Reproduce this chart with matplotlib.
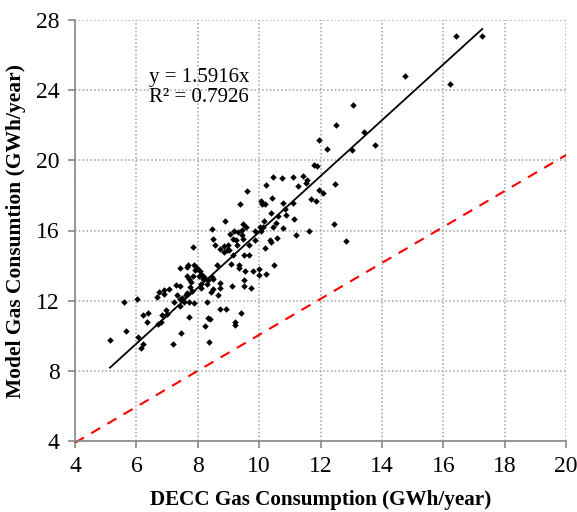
import matplotlib
matplotlib.use("Agg")
import matplotlib.pyplot as plt
import numpy as np

decc = [5.14, 5.60, 5.67, 6.03, 6.05, 6.15, 6.23, 6.21, 6.38, 6.33, 6.66, 6.74, 6.69, 6.81, 6.85,
        6.89, 6.90, 6.98, 6.99, 7.05, 7.18, 7.24, 7.29, 7.33, 7.41, 7.41, 7.42, 7.43, 7.47, 7.49,
        7.55, 7.61, 7.64, 7.65, 7.66, 7.67, 7.70, 7.71, 7.72, 7.76, 7.77, 7.82, 7.84, 7.88, 7.88,
        7.85, 7.91, 7.99, 8.03, 8.07, 8.09, 8.12, 8.14, 8.18, 8.21, 8.25, 8.30, 8.30, 8.33, 8.36,
        8.33, 8.39, 8.43, 8.45, 8.45, 8.49, 8.49, 8.51, 8.57, 8.63, 8.65, 8.71, 8.72, 8.74, 8.72,
        8.84, 8.86, 8.89, 8.92, 8.96, 8.98, 9.03, 9.05, 9.08, 9.11, 9.16, 9.16, 9.19, 9.21, 9.23,
        9.26, 9.29, 9.31, 9.33, 9.35, 9.39, 9.41, 9.43, 9.44, 9.47, 9.49, 9.50, 9.51, 9.52, 9.55,
        9.57, 9.62, 9.67, 9.68, 9.74, 9.79, 9.86, 9.87, 9.99, 10.00, 10.03, 10.05, 10.07, 10.09,
        10.11, 10.16, 10.18, 10.18, 10.22, 10.23, 10.35, 10.38, 10.40, 10.41, 10.44, 10.45, 10.48,
        10.54, 10.59, 10.63, 10.74, 10.79, 10.79, 10.85, 10.89, 11.09, 11.11, 11.13, 11.19, 11.27,
        11.42, 11.54, 11.57, 11.64, 11.70, 11.79, 11.84, 11.90, 11.95, 11.96, 12.09, 12.21, 12.45,
        12.48, 12.49, 12.84, 13.02, 13.05, 13.41, 13.76, 14.74, 16.21, 16.42, 17.27]
model = [9.75, 11.92, 10.26, 12.10, 9.92, 9.29, 9.54, 11.19, 11.31, 10.76, 12.20, 12.49, 10.66, 10.78, 11.19,
         12.62, 12.39, 11.44, 11.25, 12.68, 9.54, 11.92, 12.92, 12.35, 13.86, 12.81, 12.07, 11.69, 10.15, 12.14,
         11.95, 12.30, 12.45, 13.40, 13.91, 14.05, 13.25, 11.90, 11.06, 12.77, 13.06, 12.54, 13.38, 11.88, 14.06,
         15.05, 13.76, 13.86, 13.40, 13.68, 12.73, 12.96, 13.48, 13.23, 13.34, 10.57, 11.92, 12.96, 13.15, 9.63,
         11.00, 10.97, 12.52, 13.34, 16.08, 13.25, 12.64, 15.53, 15.19, 14.01, 12.33, 11.50, 12.99, 12.73, 14.96,
         15.09, 14.77, 16.57, 11.50, 14.86, 15.19, 14.86, 15.81, 14.10, 12.81, 14.63, 15.53, 16.00, 10.78, 10.64,
         15.47, 15.19, 15.91, 13.87, 14.01, 17.49, 11.31, 16.04, 15.72, 16.38, 15.49, 13.15, 14.58, 12.83, 13.68,
         16.19, 18.25, 14.58, 15.15, 12.72, 13.68, 16.00, 15.47, 13.44, 13.82, 16.19, 17.71, 16.00, 17.49,
         16.19, 16.52, 17.52, 15.02, 18.57, 13.53, 15.47, 16.99, 15.34, 17.85, 19.05, 16.19, 14.01,
         16.42, 15.59, 16.80, 18.99, 16.16, 17.56, 17.24, 16.86, 19.05, 17.58, 16.63, 15.72, 18.53,
         19.08, 18.72, 18.86, 16.00, 17.77, 19.75, 17.71, 19.67, 21.17, 18.32, 18.13, 20.62, 16.38,
         18.67, 21.99, 15.38, 20.57, 23.17, 21.61, 20.85, 24.79, 24.37, 27.07, 27.09]

slope = 1.5916
r2 = 0.7926
ref_x = [4, 20]
ref_y = [3.9, 20.3]
xticks = [4, 6, 8, 10, 12, 14, 16, 18, 20]
yticks = [4, 8, 12, 16, 20, 24, 28]

plt.rcParams['font.family'] = ['Liberation Serif', 'DejaVu Serif']

fig = plt.figure(figsize=(5.77, 5.12), dpi=100)
ax = fig.add_axes([75/577, 71/512, 491/577, 421/512])

gridc = '#a0a0a0'
ax.set_xlim(4, 20)
ax.set_ylim(4, 28)
ax.set_xticks(xticks)
ax.set_yticks(yticks)
ax.grid(True, color=gridc, linestyle=(0, (1, 1.5)), linewidth=1.1)
ax.set_axisbelow(True)
for s in ['top', 'right']:
    ax.spines[s].set_visible(False)
for s in ['left', 'bottom']:
    ax.spines[s].set_color('#888888')
    ax.spines[s].set_linewidth(1.2)
ax.tick_params(axis='both', direction='out', length=5, width=1.2, color='#888888',
               labelsize=17, pad=6)

ax.plot(ref_x, ref_y, color='#ff0000', linestyle=(0, (5, 4)), linewidth=1.5, clip_on=False, zorder=2)

tx = np.array([min(decc), max(decc)])
ax.plot(tx, slope * tx, color='black', linewidth=1.3, zorder=3)

ax.scatter(decc, model, marker='D', s=11, color='black', zorder=4, linewidths=0)

ax.text(6.42, 24.75, f"y = {slope}x", fontsize=15, va='center', ha='left')
ax.text(6.42, 23.6, f"R² = {r2}", fontsize=15, va='center', ha='left')

ax.set_xlabel('DECC Gas Consumption (GWh/year)', fontsize=15.2, fontweight='bold', labelpad=9)
ax.set_ylabel('Model Gas Consumtion (GWh/year)', fontsize=15.5, fontweight='bold', labelpad=7)

fig.savefig('out.png', dpi=100)
